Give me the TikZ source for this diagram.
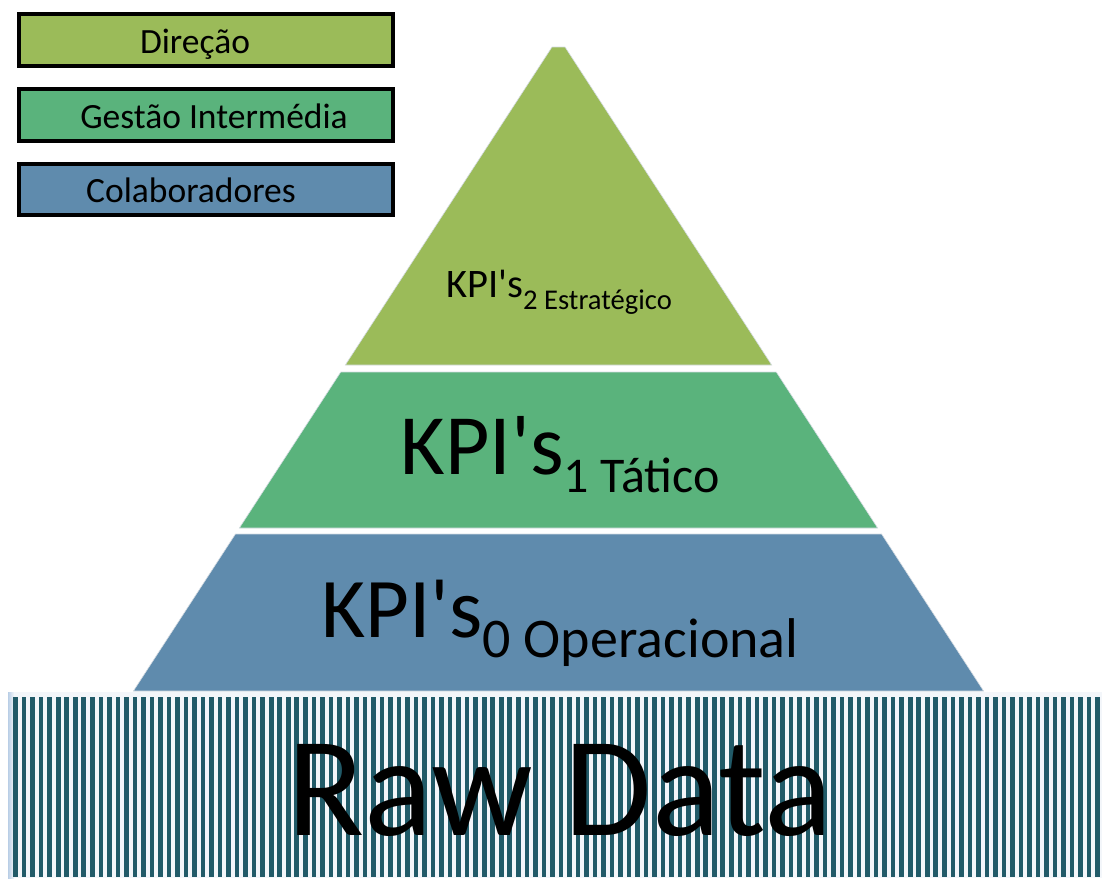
\documentclass[tikz,border=0pt]{standalone}
\usepackage{fontspec}
\newfontfamily\cfont{Carlito}
\definecolor{topgreen}{HTML}{9BBB59}
\definecolor{midgreen}{HTML}{5AB37C}
\definecolor{tierblue}{HTML}{5F8BAD}
\definecolor{stripe}{HTML}{215A68}
\definecolor{bandbg}{HTML}{F3F6FA}
\definecolor{bandedge}{HTML}{B9CEE6}
\definecolor{tieredge}{HTML}{D5DCE3}
\tikzset{
  tier/.style={draw=tieredge, line width=0.6pt},
  legbox/.style={draw=black, line width=4pt, rectangle, inner sep=0pt},
  legtext/.style={font=\cfont\fontsize{35.5}{35.5}\selectfont, inner sep=0pt, anchor=base, text=black},
  kpitext/.style={inner sep=0pt, anchor=base, text=black},
  stripebar/.style={fill=stripe, draw=none}
}
\begin{document}
\begin{tikzpicture}[x=1pt,y=-1pt]
\useasboundingbox (0,0) rectangle (1102,878);
% raw data band
\fill[bandbg] (8,692) rectangle (1102,878);
\shade[left color=bandedge, right color=bandbg] (8,692) rectangle (14,878);
\foreach \i in {0,...,127}{
  \fill[stripebar] ({13.3+8.52*\i},697) rectangle ++(4.6,180);
}
\node[kpitext, font=\cfont\fontsize{142}{142}\selectfont] (raw) at (560,835) {Raw Data};
% pyramid tiers
\filldraw[tier, fill=topgreen] (552,47) -- (565,47) -- (771.7,365) -- (345.3,365) -- cycle;
\filldraw[tier, fill=midgreen] (340.75,372) -- (776.25,372) -- (877.65,528) -- (239.35,528) -- cycle;
\filldraw[tier, fill=tierblue] (235.45,534) -- (881.55,534) -- (983.6,691) -- (133.4,691) -- cycle;
% tier labels
\node[kpitext, font=\cfont\fontsize{40.5}{40.5}\selectfont] (k2) at (559,297)
  {KPI's\raisebox{-12pt}{\fontsize{28.6}{28.6}\selectfont 2 Estratégico}};
\node[kpitext, font=\cfont\fontsize{86}{86}\selectfont] (k1) at (560,474)
  {KPI's\raisebox{-18pt}{\fontsize{50}{50}\selectfont 1 Tático}};
\node[kpitext, font=\cfont\fontsize{85}{85}\selectfont] (k0) at (560,637)
  {KPI's\raisebox{-20pt}{\fontsize{56}{56}\selectfont 0 Operacional}};
% legend
\node[legbox, fill=topgreen, minimum width=374pt, minimum height=52pt] (l1) at (206,40) {};
\node[legbox, fill=midgreen, minimum width=374pt, minimum height=52pt] (l2) at (206,115) {};
\node[legbox, fill=tierblue, minimum width=374pt, minimum height=51pt] (l3) at (206,189.5) {};
\node[legtext] (t1) at (195,53) {Direção};
\node[legtext] (t2) at (214,128) {Gestão Intermédia};
\node[legtext] (t3) at (191,202) {Colaboradores};
\end{tikzpicture}
\end{document}
